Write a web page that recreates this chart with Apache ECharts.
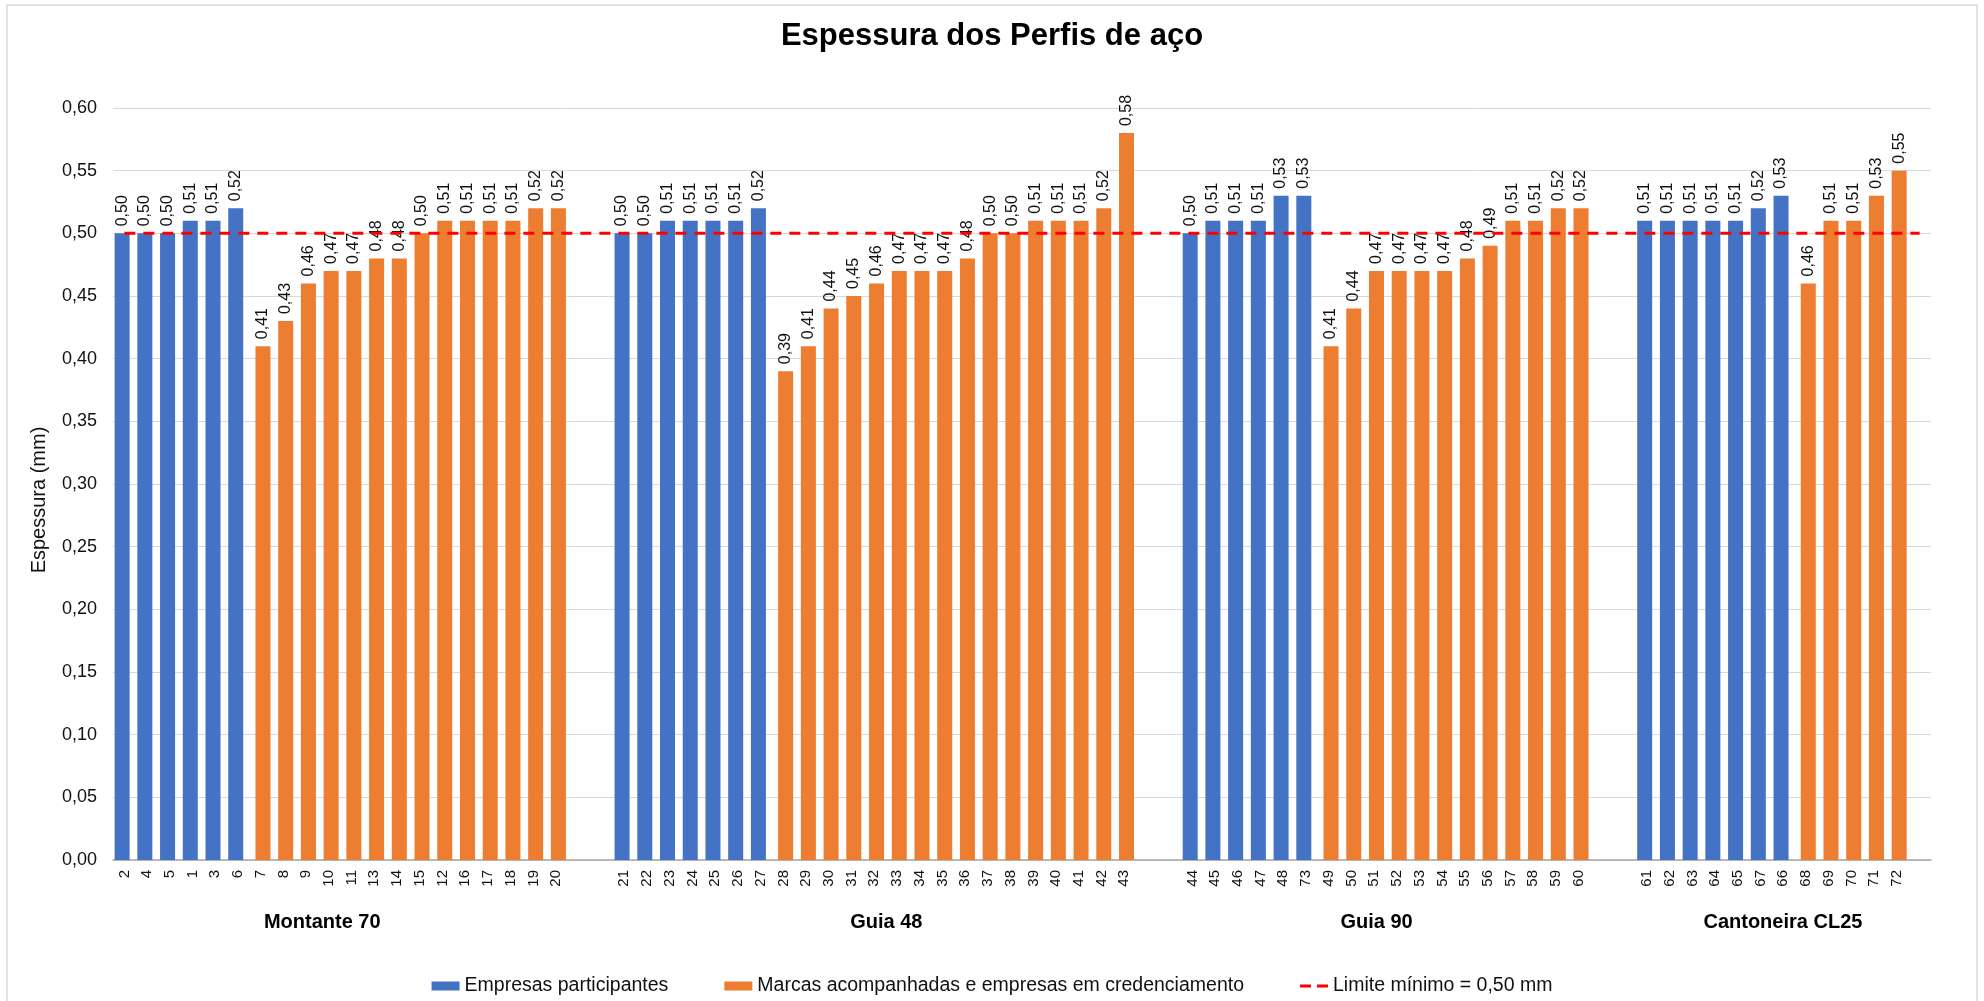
<!DOCTYPE html>
<html>
<head>
<meta charset="utf-8">
<title>Espessura dos Perfis de aço</title>
<script src="https://cdn.jsdelivr.net/npm/echarts@6.0.0/dist/echarts.min.js"></script>
<style>
  html, body { margin: 0; padding: 0; background: #fff; }
  #chart { width: 1984px; height: 1001px; }
</style>
</head>
<body>
<div id="chart"></div>
<script>
// groups of profiles (multi-level category axis)
const groupNames = ['Montante 70', 'Guia 48', 'Guia 90', 'Cantoneira CL25'];

// "Empresas participantes" (blue)
const blueLabels = [
  ['2', '4', '5', '1', '3', '6'],
  ['21', '22', '23', '24', '25', '26', '27'],
  ['44', '45', '46', '47', '48', '73'],
  ['61', '62', '63', '64', '65', '67', '66']
];
const blueValues = [
  [0.50, 0.50, 0.50, 0.51, 0.51, 0.52],
  [0.50, 0.50, 0.51, 0.51, 0.51, 0.51, 0.52],
  [0.50, 0.51, 0.51, 0.51, 0.53, 0.53],
  [0.51, 0.51, 0.51, 0.51, 0.51, 0.52, 0.53]
];

// "Marcas acompanhadas e empresas em credenciamento" (orange)
const orangeLabels = [
  ['7', '8', '9', '10', '11', '13', '14', '15', '12', '16', '17', '18', '19', '20'],
  ['28', '29', '30', '31', '32', '33', '34', '35', '36', '37', '38', '39', '40', '41', '42', '43'],
  ['49', '50', '51', '52', '53', '54', '55', '56', '57', '58', '59', '60'],
  ['68', '69', '70', '71', '72']
];
const orangeValues = [
  [0.41, 0.43, 0.46, 0.47, 0.47, 0.48, 0.48, 0.50, 0.51, 0.51, 0.51, 0.51, 0.52, 0.52],
  [0.39, 0.41, 0.44, 0.45, 0.46, 0.47, 0.47, 0.47, 0.48, 0.50, 0.50, 0.51, 0.51, 0.51, 0.52, 0.58],
  [0.41, 0.44, 0.47, 0.47, 0.47, 0.47, 0.48, 0.49, 0.51, 0.51, 0.52, 0.52],
  [0.46, 0.51, 0.51, 0.53, 0.55]
];

// empty categories after each group
const gapAfter = [2, 2, 2, 1];
// small horizontal nudge (px) of each group name, as Excel places them
const groupNameShift = [-18, 12, -9, 11];

const LIMIT = 0.50;
const yTicks = { min: 0, max: 0.60, interval: 0.05 };

// flatten into one category axis
const categories = [];
const blueSeries = [];
const orangeSeries = [];
const groupCenters = [];
groupNames.forEach((g, i) => {
  const start = categories.length;
  blueLabels[i].forEach((lab, j) => {
    categories.push(lab);
    blueSeries.push(blueValues[i][j]);
    orangeSeries.push(null);
  });
  orangeLabels[i].forEach((lab, j) => {
    categories.push(lab);
    blueSeries.push(null);
    orangeSeries.push(orangeValues[i][j]);
  });
  groupCenters.push(start + (categories.length - start) / 2);
  for (let k = 0; k < gapAfter[i]; k++) {
    categories.push('');
    blueSeries.push(null);
    orangeSeries.push(null);
  }
});
const limitSeries = categories.map(() => LIMIT);

const fmt = (v) => v.toFixed(2).replace('.', ',');
const FONT = '"Liberation Sans", Arial, sans-serif';

// rich styles for the group names
const groupRich = {};
groupNameShift.forEach((s, i) => {
  groupRich['g' + i] = {
    fontSize: 20,
    fontWeight: 'bold',
    color: '#000',
    fontFamily: FONT,
    padding: s >= 0 ? [0, 0, 0, 2 * s] : [0, -2 * s, 0, 0]
  };
});

const chart = echarts.init(document.getElementById('chart'));

const barLabel = {
  show: true,
  position: 'top',
  rotate: 90,
  align: 'left',
  verticalAlign: 'middle',
  distance: 7,
  fontSize: 16,
  color: '#111',
  fontFamily: FONT,
  formatter: (p) => fmt(p.value)
};

const option = {
  animation: false,
  backgroundColor: '#fff',
  textStyle: { fontFamily: FONT },
  title: {
    text: 'Espessura dos Perfis de aço',
    left: 'center',
    top: 16,
    textStyle: { fontSize: 31, fontWeight: 'bold', color: '#000', fontFamily: FONT }
  },
  graphic: [{
    type: 'rect',
    shape: { x: 7, y: 5, width: 1970, height: 1010 },
    style: { fill: 'none', stroke: '#d9d9d9', lineWidth: 1.5 },
    silent: true
  }],
  legend: {
    left: 'center',
    top: 971,
    itemWidth: 28,
    itemHeight: 9,
    itemGap: 56,
    textStyle: { fontSize: 19.5, color: '#111', fontFamily: FONT },
    data: [
      { name: 'Empresas participantes', icon: 'rect' },
      { name: 'Marcas acompanhadas e empresas em credenciamento', icon: 'rect' },
      { name: 'Limite mínimo = 0,50 mm', icon: 'path://M0,0H11V3H0Z M17,0H28V3H17Z' }
    ]
  },
  grid: {
    left: 113,
    right: 53,
    top: 108,
    bottom: 141
  },
  xAxis: [{
    type: 'category',
    data: categories,
    axisLine: { lineStyle: { color: '#a6a6a6', width: 1.5 } },
    axisTick: { show: false },
    axisLabel: {
      interval: 0,
      rotate: 90,
      margin: 10,
      fontSize: 15,
      color: '#111',
      fontFamily: FONT
    }
  }, {
    type: 'value',
    min: 0,
    max: categories.length,
    position: 'bottom',
    axisLine: { show: false },
    axisTick: { show: false },
    splitLine: { show: false },
    axisLabel: {
      customValues: groupCenters,
      margin: 52,
      fontSize: 20,
      fontWeight: 'bold',
      color: '#000',
      fontFamily: FONT,
      rich: groupRich,
      formatter: (v) => {
        const i = groupCenters.indexOf(v);
        return i >= 0 ? '{g' + i + '|' + groupNames[i] + '}' : '';
      }
    }
  }],
  yAxis: {
    type: 'value',
    min: yTicks.min,
    max: yTicks.max,
    interval: yTicks.interval,
    name: 'Espessura (mm)',
    nameLocation: 'middle',
    nameRotate: 90,
    nameGap: 64,
    nameTextStyle: { fontSize: 20, color: '#111', fontFamily: FONT, padding: [0, 32, 0, 0] },
    axisLine: { show: false },
    axisTick: { show: false },
    axisLabel: {
      margin: 16,
      fontSize: 18,
      color: '#111',
      fontFamily: FONT,
      formatter: (v) => fmt(v)
    },
    splitLine: { lineStyle: { color: '#d9d9d9', width: 1 } }
  },
  series: [{
    name: 'Empresas participantes',
    type: 'bar',
    data: blueSeries,
    barWidth: 15,
    barGap: '-70%',
    itemStyle: { color: '#4472C4' },
    label: barLabel
  }, {
    name: 'Marcas acompanhadas e empresas em credenciamento',
    type: 'bar',
    data: orangeSeries,
    barWidth: 15,
    barGap: '-70%',
    itemStyle: { color: '#ED7D31' },
    label: barLabel
  }, {
    name: 'Limite mínimo = 0,50 mm',
    type: 'line',
    data: limitSeries,
    symbol: 'none',
    z: 5,
    itemStyle: { color: '#FF0000' },
    lineStyle: { color: '#FF0000', width: 3, type: [11, 8] }
  }]
};

chart.setOption(option);

window.addEventListener('resize', () => {
  chart.resize();
});
</script>
</body>
</html>
